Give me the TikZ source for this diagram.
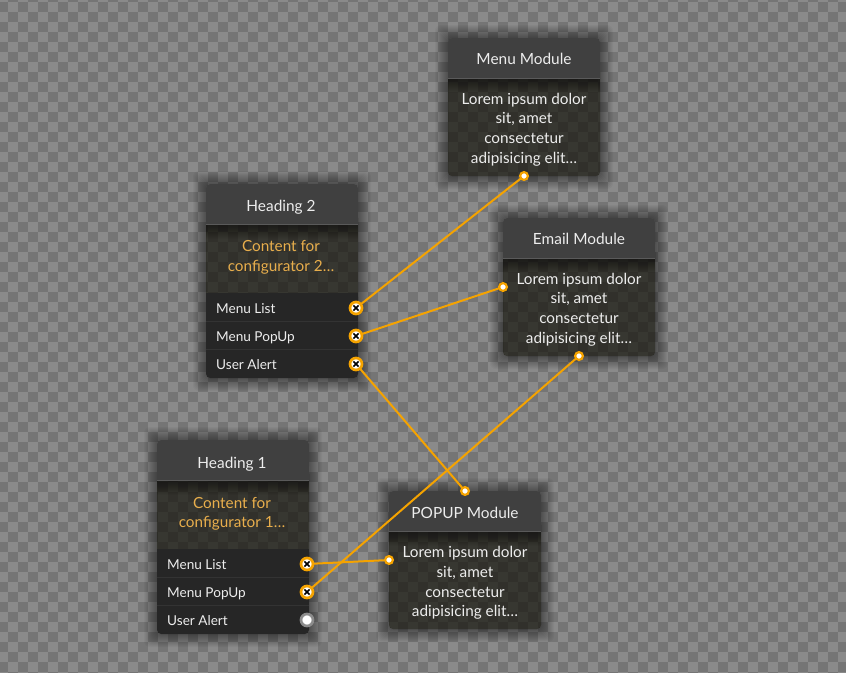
\documentclass[tikz,border=0pt]{standalone}
\usepackage{fontspec}
\setmainfont{Lato}
\usetikzlibrary{calc}
\definecolor{chkL}{HTML}{8A8A8A}
\definecolor{chkD}{HTML}{757575}
\definecolor{hdr}{HTML}{404040}
\definecolor{hdrline}{HTML}{5A5A5A}
\definecolor{bodyc}{HTML}{15140C}
\definecolor{rowc}{HTML}{262626}
\definecolor{rowline}{HTML}{333333}
\definecolor{wire}{HTML}{F5A300}
\definecolor{amber}{HTML}{E8AE4C}
\definecolor{soft}{HTML}{EDEDED}
\tikzset{
  x=1pt,y=-1pt,
  title/.style={text=soft,font=\fontsize{15.4}{17}\selectfont,inner sep=0pt,anchor=base},
  bodytext/.style={text=white!93!black,font=\fontsize{15.3}{19.6}\selectfont,align=center,inner sep=0pt,anchor=center},
  cfgtext/.style={text=amber,font=\fontsize{15.3}{19.6}\selectfont,align=center,inner sep=0pt,anchor=center},
  rowtext/.style={text=soft,font=\fontsize{13.6}{16}\selectfont,inner sep=0pt,anchor=base west},
  wireline/.style={draw=wire,line width=2pt},
  portx/.style={circle,draw=wire,line width=2.7pt,fill=white,minimum size=12pt,inner sep=0pt,
    path picture={\draw[black,line width=1.7pt] ($(path picture bounding box.center)+(-2.6,-2.6)$)--($(path picture bounding box.center)+(2.6,2.6)$);
                  \draw[black,line width=1.7pt] ($(path picture bounding box.center)+(-2.6,2.6)$)--($(path picture bounding box.center)+(2.6,-2.6)$);}},
  portfree/.style={circle,draw=white!55!black,line width=2.7pt,fill=white,minimum size=12pt,inner sep=0pt},
  endpt/.style={circle,draw=wire,line width=2.2pt,fill=white,minimum size=7.8pt,inner sep=0pt},
}
% soft shadow outside a card: #1 x, #2 y, #3 height
\newcommand{\cardshadow}[3]{%
  \begin{scope}[even odd rule]
  \clip (-20,-20) rectangle (880,700) [rounded corners=4pt] (#1,#2) rectangle ({#1+152},{#2+#3});
  \foreach \s in {1,...,13}{
    \fill[black,opacity=0.035,rounded corners=6pt]
      ({#1-\s},{#2-\s}) rectangle ({#1+152+\s},{#2+#3+\s});
  }
  \end{scope}}
% #1 x, #2 y, #3 height of header+body
\newcommand{\cardbase}[3]{%
  \fill[bodyc,opacity=0.70,rounded corners=4pt] (#1,{#2+30}) rectangle ({#1+152},{#2+#3});
  \foreach \s in {1,...,14}{
    \fill[black,opacity=0.03] (#1,{#2+41}) rectangle ({#1+152},{#2+41+\s});
  }
  \fill[hdr,rounded corners=4pt] (#1,#2) rectangle ({#1+152},{#2+30});
  \fill[hdr] (#1,{#2+15}) rectangle ({#1+152},{#2+40});
  \fill[hdrline] (#1,{#2+40}) rectangle ({#1+152},{#2+41});
}
\newcommand{\cardrows}[2]{%
  \fill[rowc,rounded corners=4pt] (#1,{#2+109}) rectangle ({#1+152},{#2+194});
  \fill[rowc] (#1,{#2+109}) rectangle ({#1+152},{#2+125});
  \fill[rowline] (#1,{#2+137}) rectangle ({#1+152},{#2+138});
  \fill[rowline] (#1,{#2+165}) rectangle ({#1+152},{#2+166});
}
\begin{document}
\begin{tikzpicture}
\useasboundingbox (0,0) rectangle (846,672);
% checkered backdrop, running past the page edge
\fill[chkL] (-5,-5) rectangle (851,677);
\foreach \i in {0,...,43}{
  \foreach \j in {0,...,34}{
    \fill[chkD] ({\i*20-12},{\j*20-8}) rectangle +(10,10);
    \fill[chkD] ({\i*20-2},{\j*20+2}) rectangle +(10,10);
  }
}
% shadows
\cardshadow{448}{38}{138}
\cardshadow{206}{184}{194}
\cardshadow{503}{218}{138}
\cardshadow{157}{440}{194}
\cardshadow{389}{491}{138}
% cards
\cardbase{448}{38}{138}
\cardbase{503}{218}{138}
\cardbase{389}{491}{138}
\cardbase{206}{184}{120}\cardrows{206}{184}
\cardbase{157}{440}{120}\cardrows{157}{440}
% texts
\node[title] (menuT) at (524,64.5) {Menu Module};
\node[bodytext] (menuB) at (524,129.5) {Lorem ipsum dolor\\sit, amet\\consectetur\\adipisicing elit\ldots};
\node[title] (emailT) at (579,244.5) {Email Module};
\node[bodytext] (emailB) at (579,309.5) {Lorem ipsum dolor\\sit, amet\\consectetur\\adipisicing elit\ldots};
\node[title] (popT) at (465,518) {POPUP Module};
\node[bodytext] (popB) at (465,583) {Lorem ipsum dolor\\sit, amet\\consectetur\\adipisicing elit\ldots};
\node[title] (h2T) at (281,211.5) {Heading 2};
\node[cfgtext] (h2B) at (281,257.5) {Content for\\configurator 2\ldots};
\node[rowtext] (h2a) at (216,313) {Menu List};
\node[rowtext] (h2b) at (216,341) {Menu PopUp};
\node[rowtext] (h2c) at (216,369) {User Alert};
\node[title] (h1T) at (232,468) {Heading 1};
\node[cfgtext] (h1B) at (232,514) {Content for\\configurator 1\ldots};
\node[rowtext] (h1a) at (167,569) {Menu List};
\node[rowtext] (h1b) at (167,597) {Menu PopUp};
\node[rowtext] (h1c) at (167,625) {User Alert};
% end points and connectors
\coordinate (cMenu) at (524,176);
\coordinate (cEmail) at (503,287);
\coordinate (cAlert) at (579,356);
\coordinate (cPopTop) at (465,491);
\coordinate (cPopLeft) at (389,560);
\coordinate (p21) at (356,308);
\coordinate (p22) at (356,336);
\coordinate (p23) at (356,364);
\coordinate (p11) at (307,564);
\coordinate (p12) at (307,592);
\coordinate (p13) at (307,620);
\draw[wireline] (p21) -- (cMenu);
\draw[wireline] (p22) -- (cEmail);
\draw[wireline] (p23) -- (cPopTop);
\draw[wireline] (p11) -- (cPopLeft);
\draw[wireline] (p12) -- (cAlert);
\node[endpt] (eMenu) at (cMenu) {};
\node[endpt] (eEmail) at (cEmail) {};
\node[endpt] (eAlert) at (cAlert) {};
\node[endpt] (ePopT) at (cPopTop) {};
\node[endpt] (ePopL) at (cPopLeft) {};
\node[portx] (n21) at (p21) {};
\node[portx] (n22) at (p22) {};
\node[portx] (n23) at (p23) {};
\node[portx] (n11) at (p11) {};
\node[portx] (n12) at (p12) {};
\node[portfree] (n13) at (p13) {};
\end{tikzpicture}
\end{document}
